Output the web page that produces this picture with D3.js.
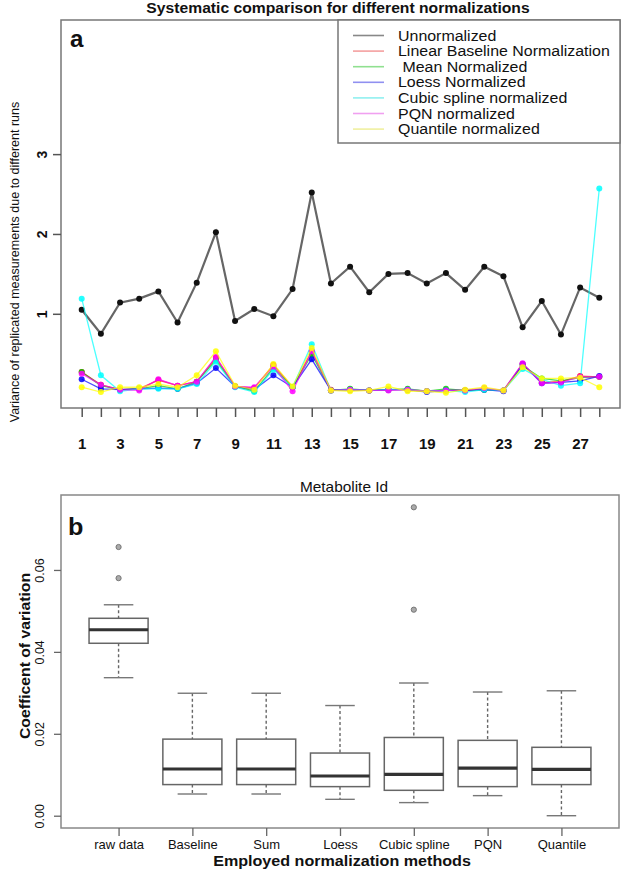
<!DOCTYPE html>
<html><head><meta charset="utf-8">
<script src="https://cdn.jsdelivr.net/npm/d3@7"></script>
<style>
body{margin:0;background:#fff}
svg{display:block;font-family:"Liberation Sans",Arial,Helvetica,sans-serif}
</style>
</head><body>
<svg id="chart" width="624" height="869"></svg>
<script>
// ---------- Panel a data ----------
const metaboliteIds = [1,2,3,4,5,6,7,8,9,10,11,12,13,14,15,16,17,18,19,20,21,22,23,24,25,26,27,28];
const xTickLabels = [1,3,5,7,9,11,13,15,17,19,21,23,25,27];
const yTicksA = [1,2,3];
const seriesNames = ["Unnormalized","Linear Baseline Normalization"," Mean Normalized","Loess Normalized","Cubic spline normalized","PQN normalized","Quantile normalized"];
const unnormalized = [1.05,0.75,1.14,1.19,1.28,0.89,1.39,2.02,0.91,1.06,0.97,1.31,2.52,1.38,1.59,1.27,1.50,1.51,1.38,1.51,1.30,1.59,1.47,0.83,1.16,0.74,1.33,1.20];
const baselineNorm = [0.27,0.11,0.05,0.06,0.17,0.10,0.15,0.45,0.09,0.07,0.36,0.08,0.53,0.05,0.05,0.04,0.05,0.05,0.03,0.04,0.04,0.05,0.04,0.37,0.14,0.15,0.22,0.21];
const meanNorm     = [0.27,0.10,0.05,0.06,0.10,0.06,0.15,0.42,0.09,0.03,0.32,0.08,0.49,0.04,0.06,0.04,0.05,0.06,0.03,0.06,0.04,0.05,0.04,0.35,0.19,0.16,0.20,0.21];
const loessNorm    = [0.18,0.06,0.05,0.06,0.07,0.06,0.13,0.32,0.09,0.05,0.23,0.08,0.43,0.04,0.05,0.04,0.05,0.05,0.02,0.04,0.04,0.05,0.03,0.37,0.13,0.14,0.16,0.22];
const cubicNorm    = [1.19,0.23,0.03,0.06,0.06,0.06,0.12,0.40,0.08,0.02,0.30,0.08,0.62,0.04,0.05,0.04,0.05,0.05,0.03,0.04,0.02,0.05,0.04,0.31,0.18,0.10,0.13,2.57];
const pqnNorm      = [0.25,0.11,0.05,0.04,0.18,0.10,0.15,0.46,0.09,0.08,0.34,0.03,0.53,0.04,0.05,0.04,0.04,0.05,0.03,0.04,0.04,0.07,0.04,0.38,0.13,0.14,0.21,0.21];
const quantileNorm = [0.08,0.02,0.08,0.08,0.12,0.08,0.23,0.53,0.10,0.05,0.37,0.09,0.57,0.04,0.03,0.04,0.09,0.03,0.03,0.01,0.05,0.08,0.04,0.33,0.19,0.19,0.20,0.08];
const seriesColors = ["#000000","#ff0000","#00cd00","#0000ff","#00ffff","#ff00ff","#ffff00"];
const legendColors = ["#888888","#f4a0a0","#90e090","#9090f0","#90f0f0","#f0a0f0","#f0f0a0"];

// ---------- Panel b data ----------
const methods = ["raw data","Baseline","Sum","Loess","Cubic spline","PQN","Quantile"];
const whiskerLow  = [0.0337,0.0053,0.0053,0.0040,0.0032,0.0049,0.0000];
const quartile1   = [0.0421,0.0076,0.0076,0.0071,0.0062,0.0071,0.0076];
const medians     = [0.0454,0.0114,0.0114,0.0097,0.0101,0.0116,0.0113];
const quartile3   = [0.0482,0.0187,0.0187,0.0153,0.0191,0.0184,0.0167];
const whiskerHigh = [0.0515,0.0299,0.0299,0.0269,0.0324,0.0302,0.0305];
const outlierMethod = ["raw data","raw data","Cubic spline","Cubic spline"];
const outlierValue  = [0.0656,0.0580,0.0753,0.0503];
const yTicksB = [0.00,0.02,0.04,0.06];

const svg = d3.select("#chart");
const FONT = "Liberation Sans, Arial, sans-serif";

// stretched text helper (the reference text is slightly wide)
function label(parent, x, y, txt, size, opts = {}) {
  const g = parent.append("g").attr("transform",
    `translate(${x},${y}) rotate(${opts.rotate||0}) scale(${opts.sx||1},1)`);
  return g.append("text").attr("x",0).attr("y",0)
    .attr("text-anchor", opts.anchor || "middle")
    .attr("dy", opts.dy || "0.35em")
    .attr("font-size", size).attr("font-weight", opts.bold ? "bold" : "normal")
    .attr("fill", opts.fill || "#111").style("white-space","pre").text(txt);
}

// title
label(svg, 338, 8, "Systematic comparison for different normalizations", 14, {bold:true, sx:1.12});

// ================= PANEL A =================
const A = {l:61, r:620, t:20, b:408};
const xA = d3.scaleLinear().domain([-0.08,29.08]).range([A.l,A.r]);
const yA = d3.scaleLinear().domain([-0.18,4.68]).range([A.b,A.t]);

const gA = svg.append("g");
gA.append("rect").attr("x",A.l).attr("y",A.t).attr("width",A.r-A.l).attr("height",A.b-A.t)
  .attr("fill","none").attr("stroke","#777").attr("stroke-width",1.5);

// x axis
const axA = gA.append("g").attr("transform",`translate(0,${A.b})`)
  .call(d3.axisBottom(xA).tickValues(metaboliteIds).tickSize(9).tickFormat(d => xTickLabels.includes(d) ? d : ""));
axA.select(".domain").remove();
axA.selectAll(".tick line").attr("stroke","#555").attr("stroke-width",1.5);
axA.selectAll(".tick text").attr("font-size",15).attr("font-weight","bold").attr("fill","#111")
  .attr("font-family",FONT).attr("y",0).attr("dy","2.75em");

// y axis
const ayA = gA.append("g").attr("transform",`translate(${A.l},0)`)
  .call(d3.axisLeft(yA).tickValues(yTicksA).tickSize(8).tickFormat(d3.format("d")));
ayA.select(".domain").remove();
ayA.selectAll(".tick line").attr("stroke","#555").attr("stroke-width",1.5);
ayA.selectAll(".tick text").attr("font-size",14).attr("font-weight","bold").attr("fill","#111")
  .attr("font-family",FONT)
  .attr("text-anchor","middle").attr("x",0).attr("y",0).attr("dy","0.35em")
  .attr("transform","translate(-19,0) rotate(-90)");

label(gA, 15, 262, "Variance of replicated measurements due to different runs", 12.5, {rotate:-90, sx:1.0});
label(gA, 344, 487, "Metabolite Id", 14, {sx:1.1});
label(gA, 70, 39, "a", 23, {bold:true, anchor:"start", dy:0, sx:1.05});

// lines
const allSeries = [unnormalized,baselineNorm,meanNorm,loessNorm,cubicNorm,pqnNorm,quantileNorm];
const line = d3.line().x((d,i)=>xA(metaboliteIds[i])).y(d=>yA(d));
gA.append("path").datum(unnormalized).attr("d",line).attr("fill","none").attr("stroke","#666").attr("stroke-width",2.2);
gA.append("g").selectAll("circle").data(unnormalized).join("circle")
  .attr("cx",(d,i)=>xA(metaboliteIds[i])).attr("cy",d=>yA(d)).attr("r",3).attr("fill","#111");
allSeries.forEach((vals,k) => {
  if (k===0) return;
  gA.append("path").datum(vals).attr("d",line).attr("fill","none")
    .attr("stroke",seriesColors[k]).attr("stroke-width",1.3).attr("stroke-opacity",0.7);
  gA.append("g").selectAll("circle").data(vals).join("circle")
    .attr("cx",(d,i)=>xA(metaboliteIds[i])).attr("cy",d=>yA(d)).attr("r",3)
    .attr("fill",seriesColors[k]).attr("fill-opacity",0.85);
});

// legend
const lg = gA.append("g");
lg.append("rect").attr("x",338).attr("y",A.t).attr("width",A.r-338).attr("height",123)
  .attr("fill","#fff").attr("stroke","#777").attr("stroke-width",1.5);
seriesNames.forEach((name,i) => {
  const y = 35.5 + i*15.6;
  lg.append("line").attr("x1",353).attr("x2",384).attr("y1",y).attr("y2",y)
    .attr("stroke",legendColors[i]).attr("stroke-width",1.6);
  label(lg, 398, y, name, 14.5, {anchor:"start", sx:1.1});
});

// ================= PANEL B =================
const B = {l:61, r:619, t:495, b:828};
const xB = d3.scaleLinear().domain([0.22,7.78]).range([B.l,B.r]);
const yB = d3.scaleLinear().domain([-0.003,0.0783]).range([B.b,B.t]);
const gB = svg.append("g");
gB.append("rect").attr("x",B.l).attr("y",B.t).attr("width",B.r-B.l).attr("height",B.b-B.t)
  .attr("fill","none").attr("stroke","#888").attr("stroke-width",1.5);

const axB = gB.append("g").attr("transform",`translate(0,${B.b})`)
  .call(d3.axisBottom(xB).tickValues(methods.map((m,i)=>i+1)).tickSize(8).tickFormat(d=>methods[d-1]));
axB.select(".domain").remove();
axB.selectAll(".tick line").attr("stroke","#666").attr("stroke-width",1.3);
axB.selectAll(".tick text").attr("font-size",13).attr("fill","#111")
  .attr("font-family",FONT).attr("y",0).attr("dy","1.6em");

const ayB = gB.append("g").attr("transform",`translate(${B.l},0)`)
  .call(d3.axisLeft(yB).tickValues(yTicksB).tickSize(7).tickFormat(d3.format(".2f")));
ayB.select(".domain").remove();
ayB.selectAll(".tick line").attr("stroke","#666").attr("stroke-width",1.3);
ayB.selectAll(".tick text").attr("font-size",12.5).attr("fill","#111")
  .attr("font-family",FONT)
  .attr("text-anchor","middle").attr("x",0).attr("y",0).attr("dy","0.35em")
  .attr("transform","translate(-21,0) rotate(-90)");

label(gB, 25, 656, "Coefficent of variation", 15, {rotate:-90, bold:true, sx:1.05});
label(gB, 342, 861, "Employed normalization methods", 15.5, {bold:true, sx:1.04});
label(gB, 68, 527, "b", 24, {bold:true, anchor:"start", dy:0, sx:1.05});

const bw = (xB(2)-xB(1))*0.8;
methods.forEach((m,i) => {
  const cx = xB(i+1);
  const g = gB.append("g");
  g.append("line").attr("x1",cx).attr("x2",cx).attr("y1",yB(whiskerHigh[i])).attr("y2",yB(quartile3[i]))
    .attr("stroke","#666").attr("stroke-width",1.4).attr("stroke-dasharray","3,2.5");
  g.append("line").attr("x1",cx).attr("x2",cx).attr("y1",yB(quartile1[i])).attr("y2",yB(whiskerLow[i]))
    .attr("stroke","#666").attr("stroke-width",1.4).attr("stroke-dasharray","3,2.5");
  [whiskerHigh[i],whiskerLow[i]].forEach(v => {
    g.append("line").attr("x1",cx-bw/4).attr("x2",cx+bw/4).attr("y1",yB(v)).attr("y2",yB(v))
      .attr("stroke","#777").attr("stroke-width",1.4);
  });
  g.append("rect").attr("x",cx-bw/2).attr("width",bw).attr("y",yB(quartile3[i]))
    .attr("height",yB(quartile1[i])-yB(quartile3[i])).attr("fill","#fff").attr("stroke","#666").attr("stroke-width",1.5);
  g.append("line").attr("x1",cx-bw/2).attr("x2",cx+bw/2).attr("y1",yB(medians[i])).attr("y2",yB(medians[i]))
    .attr("stroke","#333").attr("stroke-width",3.2);
});
gB.append("g").selectAll("circle").data(outlierValue).join("circle")
  .attr("cx",(d,i)=>xB(methods.indexOf(outlierMethod[i])+1)).attr("cy",d=>yB(d)).attr("r",2.6)
  .attr("fill","#aaa").attr("stroke","#777").attr("stroke-width",1);
</script>
</body></html>
